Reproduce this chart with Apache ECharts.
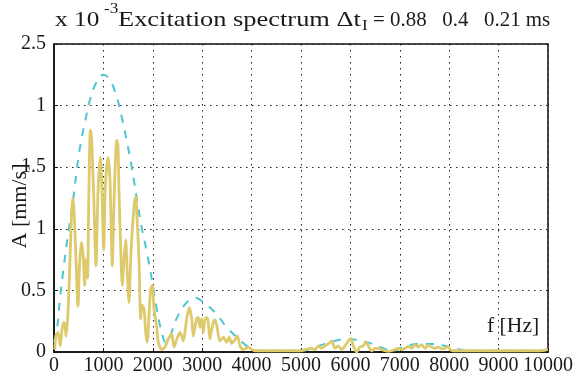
<!DOCTYPE html>
<html>
<head>
<meta charset="utf-8">
<script src="https://cdn.jsdelivr.net/npm/echarts@6/dist/echarts.min.js"></script>
<style>
  html, body { margin: 0; padding: 0; background: #fff; }
  #main { width: 581px; height: 376px; }
</style>
</head>
<body>
<div id="main"></div>
<script>
// tick labels as printed on the picture (the fifth one really reads "1")
var yTickLabels = ['0', '0.5', '1', '1.5', '1', '2.5'];

// measured spectrum [f Hz, A x 1e-3 mm/s]
var measFreq = [14, 40, 81, 128, 162, 196, 223, 243, 283, 324, 350, 378, 405, 445, 486, 516, 553, 587, 621, 648,
  678, 702, 735, 759, 804, 850, 891, 937, 961, 1006, 1040, 1093, 1133, 1180, 1214, 1269, 1295, 1316, 1350, 1382,
  1417, 1451, 1477, 1518, 1558, 1619, 1654, 1680, 1720, 1755, 1781, 1822, 1856, 1888, 1923, 1957, 1990, 2024, 2078, 2111,
  2180, 2247, 2307, 2348, 2382, 2429, 2483, 2550, 2584, 2617, 2651, 2686, 2739, 2788, 2819, 2888, 2921, 2955, 2989, 3022,
  3056, 3091, 3123, 3157, 3192, 3224, 3258, 3292, 3360, 3427, 3495, 3548, 3597, 3663, 3710, 3765, 3831, 3886, 3933, 4001,
  4068, 4500, 5013, 5080, 5216, 5283, 5350, 5418, 5485, 5552, 5621, 5688, 5755, 5823, 5890, 5957, 6011, 6058, 6126, 6193,
  6260, 6309, 6362, 6430, 6497, 6564, 6633, 6699, 6766, 6835, 6902, 6969, 7038, 7104, 7172, 7240, 7307, 7373, 7442, 7509,
  7577, 7645, 7712, 7778, 7847, 7914, 7981, 8015, 8076, 8600, 9200, 9800, 10000];
var measAmp = [0.02, 0.13, 0.16, 0.05, 0.18, 0.24, 0.22, 0.13, 0.32, 0.75, 1.08, 1.25, 1.15, 0.75, 0.37, 0.70, 0.89, 0.80, 0.54, 0.75,
  0.60, 1.18, 1.80, 1.75, 1.26, 0.70, 1.30, 1.58, 1.45, 0.83, 1.35, 1.58, 1.40, 0.70, 1.20, 1.72, 1.68, 1.30, 0.85, 0.54,
  0.75, 0.91, 0.70, 0.40, 0.80, 1.18, 1.26, 1.10, 0.75, 0.27, 0.38, 0.35, 0.16, 0.08, 0.30, 0.51, 0.54, 0.35, 0.21, 0.08,
  0.02, 0.04, 0.10, 0.13, 0.15, 0.04, 0.10, 0.16, 0.13, 0.09, 0.16, 0.27, 0.36, 0.27, 0.13, 0.27, 0.28, 0.20, 0.27, 0.16,
  0.27, 0.28, 0.24, 0.105, 0.18, 0.24, 0.26, 0.22, 0.09, 0.12, 0.08, 0.12, 0.07, 0.10, 0.13, 0.05, 0.02, 0.03, 0.04, 0.02,
  0.01, 0.01, 0.01, 0.02, 0.03, 0.02, 0.05, 0.03, 0.05, 0.065, 0.09, 0.03, 0.05, 0.02, 0.05, 0.09, 0.11, 0.05, 0.00, 0.04,
  0.05, 0.08, 0.05, 0.01, 0.03, 0.03, 0.02, 0.01, 0.005, 0.01, 0.02, 0.03, 0.02, 0.03, 0.045, 0.03, 0.06, 0.04, 0.06, 0.03,
  0.055, 0.04, 0.03, 0.04, 0.025, 0.03, 0.045, 0.02, 0.01, 0.01, 0.01, 0.01, 0.02];

// envelope (dashed)
var envFreq = [0, 61, 120, 190, 290, 390, 460, 530, 630, 730, 860, 1000, 1130, 1270, 1370, 1470, 1570, 1670, 1770, 1880,
  1980, 2080, 2180, 2260, 2340, 2480, 2680, 2850, 2990, 3260, 3500, 3700, 3930, 4050, 5000, 5180, 5590, 5920, 6330, 6600,
  6870, 7070, 7350, 7670, 7900, 8150, 8400, 10000];
var envAmp = [0.08, 0.19, 0.43, 0.67, 0.97, 1.24, 1.48, 1.67, 1.87, 2.05, 2.19, 2.25, 2.21, 2.07, 1.91, 1.72, 1.51, 1.26, 1.02, 0.81,
  0.59, 0.35, 0.16, 0.08, 0.12, 0.27, 0.40, 0.44, 0.415, 0.32, 0.20, 0.12, 0.04, 0.01, 0.01, 0.025, 0.08, 0.105, 0.08, 0.04,
  0.01, 0.04, 0.065, 0.065, 0.05, 0.025, 0.01, 0.01];

function pairs(xs, ys) {
  return xs.map(function (x, i) { return [x, ys[i]]; });
}

var serif = '"Liberation Serif", "DejaVu Serif", serif';
var ink = '#1a1a1a';
var myChart = echarts.init(document.getElementById('main'));

var dotted = { color: '#222', width: 1, type: [1.5, 4.5] };

// the original text is a little wider than Liberation Serif, so stretch it
function label(txt, x, y, size, sx) {
  return {
    type: 'text', x: x, y: y, scaleX: sx || 1,
    style: { text: txt, fontFamily: serif, fontSize: size, fill: ink, verticalAlign: 'top' }
  };
}

option = {
  animation: false,
  backgroundColor: '#fff',
  grid: {
    left: 54, right: 33, top: 44, bottom: 23,
    show: true, borderColor: '#111', borderWidth: 1.5, backgroundColor: 'transparent'
  },
  xAxis: {
    type: 'value', min: 0, max: 10000, interval: 1000,
    axisLine: { lineStyle: { color: '#111', width: 1.5 } },
    axisTick: { inside: true, length: 4, lineStyle: { color: '#111' } },
    axisLabel: {
      color: ink, fontFamily: serif, fontSize: 20, margin: 4,
      formatter: function (v) { return String(v); }
    },
    splitLine: { show: true, lineStyle: dotted }
  },
  yAxis: {
    type: 'value', min: 0, max: 2.5, interval: 0.5,
    axisLine: { show: true, lineStyle: { color: '#111', width: 1.5 } },
    axisTick: { show: true, inside: true, length: 4, lineStyle: { color: '#111' } },
    axisLabel: {
      color: ink, fontFamily: serif, fontSize: 20, margin: 8,
      formatter: function (v) { return yTickLabels[Math.round(v / 0.5)]; }
    },
    splitLine: { show: true, lineStyle: dotted }
  },
  graphic: [
    label('x 10', 55, 9, 22, 1.15),
    label('-3', 104, 2, 15, 1.15),
    label('Excitation spectrum \u0394t', 118, 9, 22, 1.2),
    label('I', 362, 19, 15, 1.15),
    label('= 0.88   0.4   0.21 ms', 373, 9, 22, 0.95),
    label('f [Hz]', 487, 317, 20, 1.08),
    {
      type: 'text', x: 20, y: 206, rotation: Math.PI / 2,
      style: { text: 'A [mm/s]', fontFamily: serif, fontSize: 22, fill: ink, align: 'center', verticalAlign: 'middle' }
    }
  ],
  series: [
    {
      name: 'envelope', type: 'line', data: pairs(envFreq, envAmp),
      smooth: 0.4, symbol: 'none', z: 2,
      lineStyle: { color: '#4CC6D3', width: 2, type: [8, 8] }
    },
    {
      name: 'spectrum', type: 'line', data: pairs(measFreq, measAmp),
      smooth: 0.25, symbol: 'none', z: 3,
      lineStyle: { color: '#DCCA6C', width: 2.8 }
    }
  ]
};

myChart.setOption(option);
</script>
</body>
</html>
